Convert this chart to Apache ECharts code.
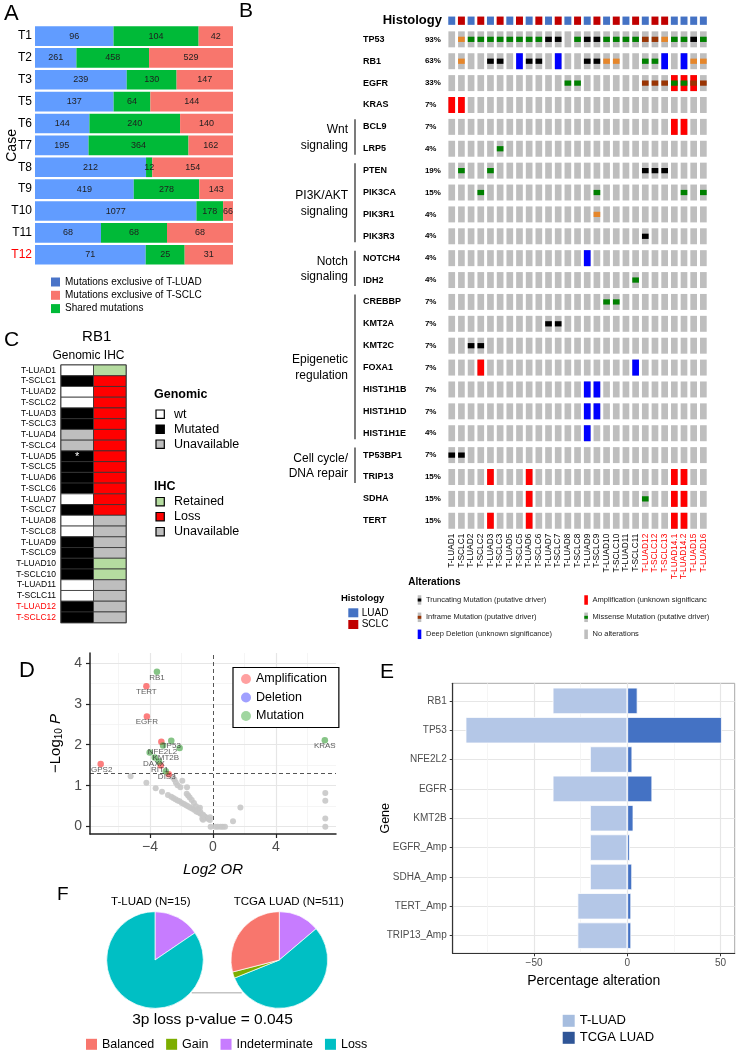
<!DOCTYPE html>
<html><head><meta charset="utf-8">
<script src="https://cdn.jsdelivr.net/npm/echarts@6/dist/echarts.min.js"></script>
<style>html,body{margin:0;padding:0;background:#fff}#c{width:736px;height:1050px}</style>
</head><body><div id="c"></div>
<script>
// ---------------- Panel A data ----------------
const caseLabels = ['T1','T2','T3','T5','T6','T7','T8','T9','T10','T11','T12'];
const luadExclusive = [96,261,239,137,144,195,212,419,1077,68,71];
const sharedMut = [104,458,130,64,240,364,12,278,178,68,25];
const sclcExclusive = [42,529,147,144,140,162,154,143,66,68,31];
const redCases = ['T12'];

// ---------------- Panel B data ----------------
const samples = ['T-LUAD1','T-SCLC1','T-LUAD2','T-SCLC2','T-LUAD3','T-SCLC3','T-LUAD5','T-SCLC5','T-LUAD6','T-SCLC6','T-LUAD7','T-SCLC7','T-LUAD8','T-SCLC8','T-LUAD9','T-SCLC9','T-LUAD10','T-SCLC10','T-LUAD11','T-SCLC11','T-LUAD12','T-SCLC12','T-SCLC13','T-LUAD14.1','T-LUAD14.2','T-LUAD15','T-LUAD16'];
const redSamples = ['T-LUAD12','T-SCLC12','T-SCLC13','T-LUAD14.1','T-LUAD14.2','T-LUAD15','T-LUAD16'];
const genes = ['TP53','RB1','EGFR','KRAS','BCL9','LRP5','PTEN','PIK3CA','PIK3R1','PIK3R3','NOTCH4','IDH2','CREBBP','KMT2A','KMT2C','FOXA1','HIST1H1B','HIST1H1D','HIST1H1E','TP53BP1','TRIP13','SDHA','TERT'];
// . none, M missense, T truncating, I inframe, S splice/other, A amplification, D deep deletion, X amp+missense, Y amp+inframe
const alterations = [
  '.SMMMMMMM|MTT.MTTMM|MMIISMMTM', // TP53
  '.S..TT.DT|T.D..TTSS|..MMD.DSS', // RB1
  '.........|...MM....|..IIIXXYI', // EGFR
  'AA.......|.........|.........', // KRAS
  '.........|.........|.....AA..', // BCL9
  '.....M...|.........|.........', // LRP5
  '.M..M....|.........|..TTT....', // PTEN
  '...M.....|......M..|......M.M', // PIK3CA
  '.........|......S..|.........', // PIK3R1
  '.........|.........|..T......', // PIK3R3
  '.........|.....D...|.........', // NOTCH4
  '.........|.........|.M.......', // IDH2
  '.........|.......MM|.........', // CREBBP
  '.........|.TT......|.........', // KMT2A
  '..TT.....|.........|.........', // KMT2C
  '...A.....|.........|.D.......', // FOXA1
  '.........|.....DD..|.........', // HIST1H1B
  '.........|.....DD..|.........', // HIST1H1D
  '.........|.....D...|.........', // HIST1H1E
  'TT.......|.........|.........', // TP53BP1
  '....A...A|.........|.....AA..', // TRIP13
  '........A|.........|..M..AA..', // SDHA
  '....A...A|.........|.....AA..'  // TERT
];
const pathwayNames = ['Wnt\nsignaling','PI3K/AKT\nsignaling','Notch\nsignaling','Epigenetic\nregulation','Cell cycle/\nDNA repair'];
const pathwayGenes = [['BCL9','LRP5'],['PTEN','PIK3CA','PIK3R1','PIK3R3'],['NOTCH4','IDH2'],['CREBBP','KMT2A','KMT2C','FOXA1','HIST1H1B','HIST1H1D','HIST1H1E'],['TP53BP1','TRIP13']];

// ---------------- Panel C data ----------------
const rb1Samples = ['T-LUAD1','T-SCLC1','T-LUAD2','T-SCLC2','T-LUAD3','T-SCLC3','T-LUAD4','T-SCLC4','T-LUAD5','T-SCLC5','T-LUAD6','T-SCLC6','T-LUAD7','T-SCLC7','T-LUAD8','T-SCLC8','T-LUAD9','T-SCLC9','T-LUAD10','T-SCLC10','T-LUAD11','T-SCLC11','T-LUAD12','T-SCLC12'];
const rb1Genomic = ['wt','mut','wt','wt','mut','mut','na','na','mut','mut','mut','mut','wt','mut','wt','wt','mut','mut','mut','mut','wt','wt','mut','mut'];
const rb1IHC = ['ret','loss','loss','loss','loss','loss','loss','loss','loss','loss','loss','loss','loss','loss','na','na','na','na','ret','ret','na','na','na','na'];
const rb1Note = ['','','','','','','','','*','','','','','','','','','','','','','','',''];
const redRb1 = ['T-LUAD12','T-SCLC12'];

// ---------------- Panel D data ----------------
const greyX = [-5.23,-4.23,-3.64,-3.24,-2.86,-2.65,-2.52,-2.39,-2.25,-2.12,-1.98,-1.84,-1.71,-1.59,-1.46,-1.33,-1.2,-1.06,-0.94,-0.81,-0.67,-0.53,-0.42,-0.32,-0.2,-2.54,-2.45,-2.36,-2.25,-2.07,-1.95,-1.65,-1.67,-1.58,-1.48,-1.35,-1.21,-1.08,-0.95,-0.8,-0.63,-0.63,-0.83,-0.68,-0.19,-0.15,0.15,0.3,0.48,0.62,0.76,1.27,1.74,7.13,7.13,7.13,7.13];
const greyY = [1.23,1.07,0.94,0.85,0.77,0.73,0.70,0.67,0.64,0.62,0.58,0.55,0.52,0.50,0.47,0.44,0.41,0.37,0.35,0.32,0.28,0.25,0.22,0.19,0.16,1.20,1.15,1.08,1.01,0.96,1.12,0.96,0.80,0.76,0.71,0.65,0.58,0.50,0.43,0.36,0.29,0.17,0.46,0.19,0.23,0,0,0,0,0,0,0.13,0.47,0.82,0.63,0.20,0];
const ampNames = ['TERT','EGFR','GPS2','','','DIS3'];
const ampX = [-4.23,-4.2,-7.13,-3.28,-3.32,-2.81];
const ampY = [3.43,2.69,1.53,2.07,1.49,1.28];
const mutNames = ['RB1','TP53','','','NFE2L2','KMT2B','DAXX','RIT1','KRAS'];
const mutX = [-3.56,-2.65,-3.17,-2.12,-4.02,-3.7,-3.43,-3.0,7.1];
const mutY = [3.78,2.1,1.98,1.92,1.81,1.69,1.59,1.35,2.11];
const pThreshold = 1.3;

// ---------------- Panel E data ----------------
const genesE = ['RB1','TP53','NFE2L2','EGFR','KMT2B','EGFR_Amp','SDHA_Amp','TERT_Amp','TRIP13_Amp'];
const tLuadPct = [40,86.7,20,40,20,20,20,26.7,26.7];
const tcgaPct = [5.5,50.7,2.7,13.4,3.3,1.4,2.6,2.1,2.1];

// ---------------- Panel F data ----------------
const cnaClasses = ['Indeterminate','Loss','Gain','Balanced'];
const tLuad3p = [15.5,84.5,0,0];
const tcga3p = [13.8,55.1,2.1,29.0];

// ================= build =================
const FONT = '"Liberation Sans", Arial, Helvetica, sans-serif';
const minus = v => (v < 0 ? '\u2212' + Math.abs(v) : String(v));
const chart = echarts.init(document.getElementById('c'), null, {renderer: 'canvas'});

// A
const totalsA = caseLabels.map((_, i) => luadExclusive[i] + sharedMut[i] + sclcExclusive[i]);
function barA(name, arr, color) {
  return {
    type: 'bar', name, stack: 'A', xAxisIndex: 0, yAxisIndex: 0,
    data: arr.map((v, i) => v / totalsA[i] * 100),
    barCategoryGap: '10%', itemStyle: {color}, silent: true,
    label: {show: true, position: 'inside', fontSize: 9, color: '#1e1e1e', fontFamily: FONT,
      formatter: p => String(arr[p.dataIndex])}
  };
}
const nameLuad = 'Mutations exclusive of T-LUAD', nameSclc = 'Mutations exclusive of T-SCLC', nameShared = 'Shared mutations';

// B
const rowCodes = alterations.map(s => s.replace(/\|/g, ''));
const codeList = 'MTISADXY';
const altColor = {M: '#008000', T: '#000000', I: '#993404', S: '#e5862b', A: '#ff0000', D: '#0000ff'};
const cellsBase = [], cellsAlt = [];
genes.forEach((g, gi) => {
  for (let j = 0; j < samples.length; j++) {
    cellsBase.push([j, gi]);
    const c = rowCodes[gi][j];
    if (c !== '.') cellsAlt.push([j, gi, codeList.indexOf(c)]);
  }
});
const pctLabels = rowCodes.map(s => Math.round(s.split('').filter(c => c !== '.').length / samples.length * 100) + '%');
const histCells = samples.map((s, j) => [j, 0, s.indexOf('SCLC') >= 0 ? 1 : 0]);

function renderBase(params, api) {
  const p = api.coord([api.value(0), api.value(1)]);
  const s = api.size([1, 1]);
  const w = s[0] * 0.69, h = s[1] * 0.73;
  return {type: 'rect', shape: {x: p[0] - w / 2, y: p[1] - h / 2, width: w, height: h}, style: {fill: '#bebebe'}};
}
function renderAlt(params, api) {
  const p = api.coord([api.value(0), api.value(1)]);
  const s = api.size([1, 1]);
  const w = s[0] * 0.69, h = s[1] * 0.73, hm = s[1] * 0.24;
  const c = codeList[api.value(2)];
  const kids = [];
  const full = col => kids.push({type: 'rect', shape: {x: p[0] - w / 2, y: p[1] - h / 2, width: w, height: h}, style: {fill: col}});
  const mid = col => kids.push({type: 'rect', shape: {x: p[0] - w / 2, y: p[1] - hm / 2, width: w, height: hm}, style: {fill: col}});
  if (c === 'A') full(altColor.A);
  else if (c === 'D') full(altColor.D);
  else if (c === 'X') { full(altColor.A); mid(altColor.M); }
  else if (c === 'Y') { full(altColor.A); mid(altColor.I); }
  else mid(altColor[c]);
  return {type: 'group', children: kids};
}
function renderHist(params, api) {
  const p = api.coord([api.value(0), api.value(1)]);
  const s = api.size([1, 1]);
  const w = s[0] * 0.72, h = 8.3;
  return {type: 'rect', shape: {x: p[0] - w / 2, y: p[1] - h / 2, width: w, height: h},
    style: {fill: api.value(2) === 1 ? '#c00000' : '#4472c4'}};
}

// C
const genColor = {wt: '#ffffff', mut: '#000000', na: '#bebebe'};
const ihcColor = {ret: '#b5dca0', loss: '#ff0000', na: '#bebebe'};
const cellsC = [];
rb1Samples.forEach((s, i) => { cellsC.push([0, i]); cellsC.push([1, i]); });
function renderC(params, api) {
  const col = api.value(0), row = api.value(1);
  const p = api.coord([col, row]);
  const s = api.size([1, 1]);
  const fill = col === 0 ? genColor[rb1Genomic[row]] : ihcColor[rb1IHC[row]];
  const kids = [{type: 'rect', shape: {x: p[0] - s[0] / 2, y: p[1] - s[1] / 2, width: s[0], height: s[1]},
    style: {fill, stroke: '#333', lineWidth: 0.8}}];
  if (col === 0 && rb1Note[row]) {
    kids.push({type: 'text', style: {text: rb1Note[row], x: p[0], y: p[1] + 1, fill: '#fff', fontSize: 11, fontFamily: FONT,
      textAlign: 'center', textVerticalAlign: 'middle', align: 'center', verticalAlign: 'middle'}});
  }
  return {type: 'group', children: kids};
}

// D
const labelOffset = {RB1: [0, 6], TERT: [0, 5.5], EGFR: [0, 5.5], GPS2: [1, 6], KRAS: [0, 6], TP53: [0, 5.5],
  NFE2L2: [12.8, -0.5], KMT2B: [11, 0], DAXX: [-5, 2], RIT1: [-6, -1.4], DIS3: [-2, 3]};
const SYM = 6.5;
function pointsD(xs, ys, names) {
  return xs.map((x, i) => {
    const off = labelOffset[names[i]] || [0, 0];
    return {value: [x, ys[i]], label: {show: !!names[i], formatter: names[i], position: [SYM / 2 + off[0], SYM / 2 + off[1]],
      align: 'center', verticalAlign: 'middle', fontSize: 8, color: '#333', fontFamily: FONT}};
  });
}
const lnMajor = {color: '#e6e6e6', width: 1.2, type: 'solid'};
const lnMinor = {color: '#f2f2f2', width: 0.8, type: 'solid'};
const lnDash = {color: '#555', width: 1, type: [4, 3]};
const gridD = [];
[-6, -2, 2, 6].forEach(v => gridD.push({xAxis: v, lineStyle: lnMinor}));
[0.5, 1.5, 2.5, 3.5].forEach(v => gridD.push({yAxis: v, lineStyle: lnMinor}));
[-4, 4].forEach(v => gridD.push({xAxis: v, lineStyle: lnMajor}));
[0, 1, 2, 3, 4].forEach(v => gridD.push({yAxis: v, lineStyle: lnMajor}));
const dashD = [{xAxis: 0, lineStyle: lnDash}, {yAxis: pThreshold, lineStyle: lnDash}];

// E
const gridEv = [];
[-75, -25, 25].forEach(v => gridEv.push({xAxis: v, lineStyle: lnMinor}));
[-50, 0, 50].forEach(v => gridEv.push({xAxis: v, lineStyle: lnMajor}));
const gridEh = genesE.map((g, i) => ({yAxis: i, lineStyle: lnMajor}));

// F
const pieData = arr => cnaClasses.map((n, i) => ({name: n, value: arr[i]})).filter(d => d.value > 0);
const cnaColor = {Balanced: '#F8766D', Gain: '#7CAE00', Indeterminate: '#C77CFF', Loss: '#00BFC4'};

const noAxis = {axisLine: {show: false}, axisTick: {show: false}, splitLine: {show: false}};
const mlBase = {silent: true, z: 0, zlevel: 0, symbol: ['none', 'none'], label: {show: false}, animation: false, emphasis: {disabled: true}};
const noLine = {width: 0, opacity: 0};
const CIRCLE = 'path://M50,0A50,50,0,1,1,50,100A50,50,0,1,1,50,0Z';

const option = {
  animation: false,
  textStyle: {fontFamily: FONT},
  grid: [
    {left: 35, top: 25.1, width: 198, height: 240.6},
    {left: 446.9, top: 12.2, width: 261.3, height: 17},
    {left: 446.9, top: 28.4, width: 261.3, height: 503.3},
    {left: 61, top: 365, width: 65, height: 257.7, show: true, borderColor: '#222', borderWidth: 1.2},
    {left: 90, top: 653, width: 246, height: 181},
    {left: 452.7, top: 686.2, width: 282, height: 264.1},
    {left: 452.7, top: 683.3, width: 282, height: 270, show: true, borderColor: '#a8a8a8', borderWidth: 1}
  ].map(g => Object.assign({containLabel: false, outerBoundsMode: 'none'}, g)),
  xAxis: [
    {gridIndex: 0, type: 'value', min: 0, max: 100, show: false},
    {gridIndex: 1, type: 'category', data: samples, show: false},
    Object.assign({gridIndex: 2, type: 'category', data: samples, position: 'bottom',
      axisLabel: {rotate: 90, fontSize: 8.3, margin: 2, interval: 0, fontFamily: FONT,
        color: v => (redSamples.indexOf(v) >= 0 ? '#ff0000' : '#000')}}, noAxis),
    Object.assign({gridIndex: 3, type: 'category', data: ['Genomic', 'IHC'], position: 'top',
      axisLabel: {show: false}}, noAxis),
    {gridIndex: 4, type: 'value', min: -7.81, max: 7.81, position: 'bottom', splitLine: {show: false},
      axisLine: {show: true, onZero: false, lineStyle: {color: '#222', width: 1.5}},
      axisTick: {show: true, customValues: [-4, 0, 4], length: 4, lineStyle: {color: '#222', width: 1.2}},
      axisLabel: {customValues: [-4, 0, 4], formatter: minus, fontSize: 14, color: '#4d4d4d', margin: 6, fontFamily: FONT},
      name: 'Log2 OR', nameLocation: 'middle', nameGap: 28, nameMoveOverlap: false,
      nameTextStyle: {fontStyle: 'italic', fontSize: 15, color: '#000', fontFamily: FONT}},
    {gridIndex: 5, type: 'value', min: -93.6, max: 57.6, show: false},
    {gridIndex: 6, type: 'value', min: -93.6, max: 57.6, position: 'bottom', splitLine: {show: false},
      axisLine: {show: true, onZero: false, lineStyle: {color: '#333', width: 1.2}},
      axisTick: {show: true, customValues: [-50, 0, 50], length: 3, lineStyle: {color: '#333'}},
      axisLabel: {customValues: [-50, 0, 50], formatter: minus, fontSize: 10, color: '#4d4d4d', margin: 5, fontFamily: FONT},
      name: 'Percentage alteration', nameLocation: 'middle', nameGap: 21, nameMoveOverlap: false,
      nameTextStyle: {fontSize: 14, color: '#000', fontFamily: FONT}}
  ],
  yAxis: [
    Object.assign({gridIndex: 0, type: 'category', data: caseLabels, inverse: true,
      axisLabel: {fontSize: 12, margin: 3, fontFamily: FONT, color: v => (redCases.indexOf(v) >= 0 ? '#ff0000' : '#000')},
      name: 'Case', nameLocation: 'middle', nameGap: 16, nameRotate: 90, nameMoveOverlap: false,
      nameTextStyle: {fontSize: 14, color: '#000', fontFamily: FONT}}, noAxis),
    Object.assign({gridIndex: 1, type: 'category', data: ['Histology'],
      axisLabel: {fontSize: 13, fontWeight: 'bold', color: '#000', margin: 5, fontFamily: FONT}}, noAxis),
    Object.assign({gridIndex: 2, type: 'category', data: genes, inverse: true,
      axisLabel: {margin: 6, interval: 0, fontFamily: FONT,
        formatter: (v, i) => '{g|' + v + '}{p|' + pctLabels[i] + '}',
        rich: {g: {width: 62, align: 'left', fontSize: 9, fontWeight: 'bold', color: '#000', fontFamily: FONT},
               p: {width: 16, align: 'left', fontSize: 8, fontWeight: 'bold', color: '#000', fontFamily: FONT}}}}, noAxis),
    Object.assign({gridIndex: 3, type: 'category', data: rb1Samples, inverse: true,
      axisLabel: {fontSize: 8.5, margin: 5, interval: 0, fontFamily: FONT,
        color: v => (redRb1.indexOf(v) >= 0 ? '#ff0000' : '#000')}}, noAxis),
    {gridIndex: 4, type: 'value', min: -0.18, max: 4.24, position: 'left', splitLine: {show: false},
      axisLine: {show: true, onZero: false, lineStyle: {color: '#222', width: 1.5}},
      axisTick: {show: true, customValues: [0, 1, 2, 3, 4], length: 4, lineStyle: {color: '#222', width: 1.2}},
      axisLabel: {customValues: [0, 1, 2, 3, 4], fontSize: 14, color: '#4d4d4d', margin: 8, fontFamily: FONT},
      name: '{a|\u2212Log}{s|10}{a| }{i|P}', nameLocation: 'middle', nameGap: 26, nameRotate: 90, nameMoveOverlap: false,
      nameTextStyle: {color: '#000', fontFamily: FONT, rich: {
        a: {fontSize: 15, color: '#000', fontFamily: FONT},
        s: {fontSize: 10, color: '#000', fontFamily: FONT, padding: [7, 0, 0, 0]},
        i: {fontSize: 15, color: '#000', fontStyle: 'italic', fontFamily: FONT}}}},
    {gridIndex: 5, type: 'category', data: genesE, inverse: true, position: 'left', axisLine: {show: false, onZero: false},
      axisTick: {show: true, alignWithLabel: true, length: 3, lineStyle: {color: '#333'}}, splitLine: {show: false},
      axisLabel: {fontSize: 10, color: '#4d4d4d', margin: 6, interval: 0, fontFamily: FONT}},
    {gridIndex: 6, type: 'value', min: 0, max: 1, position: 'left',
      axisLine: {show: true, onZero: false, lineStyle: {color: '#333', width: 1.2}},
      axisTick: {show: false}, axisLabel: {show: false}, splitLine: {show: false},
      name: 'Gene', nameLocation: 'middle', nameGap: 61, nameRotate: 90, nameMoveOverlap: false,
      nameTextStyle: {fontSize: 12.5, color: '#000', fontFamily: FONT}}
  ],
  legend: [
    {left: 51, top: 277, orient: 'vertical', itemWidth: 9, itemHeight: 9, itemGap: 3.3, padding: 0, selectedMode: false,
      lineStyle: noLine, textStyle: {fontSize: 10, lineHeight: 10, color: '#000', fontFamily: FONT},
      data: [{name: nameLuad, icon: 'rect', itemStyle: {color: '#4a74c8'}},
             {name: nameSclc, icon: 'rect', itemStyle: {color: '#F8766D'}},
             {name: nameShared, icon: 'rect', itemStyle: {color: '#00BA38'}}]},
    {left: 233, top: 667.5, orient: 'vertical', itemWidth: 10, itemHeight: 10, itemGap: 5.5, padding: [5, 12, 5, 8],
      borderColor: '#000', borderWidth: 1.2, backgroundColor: '#fff', z: 20, selectedMode: false, lineStyle: noLine,
      itemStyle: {borderWidth: 0},
      textStyle: {fontSize: 12.5, lineHeight: 13, color: '#000', fontFamily: FONT},
      data: [{name: 'Amplification', icon: CIRCLE, itemStyle: {color: '#f88', borderWidth: 0}},
             {name: 'Deletion', icon: CIRCLE, itemStyle: {color: '#88f', borderWidth: 0}},
             {name: 'Mutation', icon: CIRCLE, itemStyle: {color: '#8c8', borderWidth: 0}}]},
    {left: 562.7, top: 1014.3, orient: 'vertical', itemWidth: 12, itemHeight: 12, itemGap: 4, padding: 0, selectedMode: false,
      lineStyle: noLine, textStyle: {fontSize: 13, lineHeight: 12, color: '#000', fontFamily: FONT},
      data: [{name: 'T-LUAD', icon: 'rect', itemStyle: {color: '#a6bddf', borderWidth: 0}},
             {name: 'TCGA LUAD', icon: 'rect', itemStyle: {color: '#2f5597', borderWidth: 0}}]},
    {left: 86, top: 1037.8, orient: 'horizontal', itemWidth: 11, itemHeight: 11, itemGap: 12, padding: 0, selectedMode: false,
      lineStyle: noLine, textStyle: {fontSize: 12.5, color: '#000', fontFamily: FONT},
      data: ['Balanced', 'Gain', 'Indeterminate', 'Loss'].map(n => ({name: n, icon: 'rect', itemStyle: {color: cnaColor[n], borderWidth: 0}}))}
  ],
  series: [
    barA(nameLuad, luadExclusive, '#619CFF'),
    barA(nameShared, sharedMut, '#00BA38'),
    barA(nameSclc, sclcExclusive, '#F8766D'),
    {type: 'custom', name: 'hist', xAxisIndex: 1, yAxisIndex: 1, data: histCells, renderItem: renderHist, silent: true},
    {type: 'custom', name: 'base', xAxisIndex: 2, yAxisIndex: 2, data: cellsBase, renderItem: renderBase, silent: true, z: 2},
    {type: 'custom', name: 'alt', xAxisIndex: 2, yAxisIndex: 2, data: cellsAlt, renderItem: renderAlt, silent: true, z: 3},
    {type: 'custom', name: 'rb1', xAxisIndex: 3, yAxisIndex: 3, data: cellsC, renderItem: renderC, silent: true, z: 3},
    {type: 'scatter', name: 'gridD', xAxisIndex: 4, yAxisIndex: 4, data: [], z: 0, silent: true,
      markLine: Object.assign({data: gridD.concat(dashD)}, mlBase)},
    {type: 'scatter', name: 'ns', xAxisIndex: 4, yAxisIndex: 4, data: greyX.map((x, i) => [x, greyY[i]]),
      symbolSize: 6, itemStyle: {color: '#c8c8c8', opacity: 0.9}, silent: true, z: 3},
    {type: 'scatter', name: 'Amplification', xAxisIndex: 4, yAxisIndex: 4, data: pointsD(ampX, ampY, ampNames),
      symbolSize: SYM, itemStyle: {color: 'rgba(250,40,40,0.75)'}, silent: true, z: 4},
    {type: 'scatter', name: 'Deletion', xAxisIndex: 4, yAxisIndex: 4, data: [], symbolSize: SYM, itemStyle: {color: '#88f'}, silent: true},
    {type: 'scatter', name: 'Mutation', xAxisIndex: 4, yAxisIndex: 4, data: pointsD(mutX, mutY, mutNames),
      symbolSize: SYM, itemStyle: {color: 'rgba(40,150,40,0.7)'}, silent: true, z: 4},
    {type: 'scatter', name: 'gridEh', xAxisIndex: 5, yAxisIndex: 5, data: [], z: 0, silent: true,
      markLine: Object.assign({data: gridEh}, mlBase)},
    {type: 'scatter', name: 'gridEv', xAxisIndex: 6, yAxisIndex: 6, data: [], z: 0, silent: true,
      markLine: Object.assign({data: gridEv}, mlBase)},
    {type: 'bar', name: 'T-LUAD', xAxisIndex: 5, yAxisIndex: 5, data: tLuadPct.map(v => -v), barGap: '-100%', barCategoryGap: '10%',
      itemStyle: {color: '#b4c7e7', borderColor: '#fff', borderWidth: 0.8}, silent: true, z: 3},
    {type: 'bar', name: 'TCGA LUAD', xAxisIndex: 5, yAxisIndex: 5, data: tcgaPct, barGap: '-100%', barCategoryGap: '10%',
      itemStyle: {color: '#4472c4', borderColor: '#fff', borderWidth: 0.8}, silent: true, z: 3},
    {type: 'pie', name: 'pieL', center: [155, 960], radius: [0, 48.3], startAngle: 90, clockwise: true, silent: true,
      label: {show: false}, labelLine: {show: false}, data: pieData(tLuad3p),
      itemStyle: {borderColor: '#fff', borderWidth: 0.7, color: p => cnaColor[p.name]}},
    {type: 'pie', name: 'pieR', center: [279.3, 960], radius: [0, 48.3], startAngle: 90, clockwise: true, silent: true,
      label: {show: false}, labelLine: {show: false}, data: pieData(tcga3p),
      itemStyle: {borderColor: '#fff', borderWidth: 0.7, color: p => cnaColor[p.name]}}
  ]
};
chart.setOption(option);

// ---------- annotations (graphic) ----------
function txt(x, y, text, size, o) {
  o = o || {};
  const al = o.align || 'left', va = o.valign || 'middle';
  return {type: 'text', x, y, silent: true, z: o.z || 10, style: {text, fontSize: size, fontFamily: FONT, fill: o.fill || '#000',
    fontWeight: o.bold ? 'bold' : 'normal', fontStyle: o.italic ? 'italic' : 'normal', lineHeight: o.lh,
    textAlign: al, textVerticalAlign: va, align: al, verticalAlign: va}};
}
function rect(x, y, w, h, fill, stroke, lw) {
  return {type: 'rect', silent: true, z: 10, shape: {x, y, width: w, height: h}, style: {fill, stroke: stroke || null, lineWidth: lw || 0}};
}
const G = [];
// panel letters
G.push(txt(4, 14, 'A', 22), txt(239, 11.5, 'B', 21), txt(4, 340, 'C', 21), txt(19, 670.5, 'D', 22), txt(380, 672, 'E', 21), txt(57, 894.5, 'F', 19));
// panel B pathway groups
pathwayNames.forEach((nm, k) => {
  const gs = pathwayGenes[k];
  const y1 = chart.convertToPixel({yAxisIndex: 2}, genes.indexOf(gs[0]));
  const y2 = chart.convertToPixel({yAxisIndex: 2}, genes.indexOf(gs[gs.length - 1]));
  G.push({type: 'line', silent: true, z: 10, shape: {x1: 355, y1: y1 - 7.5, x2: 355, y2: y2 + 6}, style: {stroke: '#222', lineWidth: 1.2}});
  G.push(txt(348, (y1 + y2) / 2, nm, 12, {align: 'right', lh: 15.5}));
});
// panel B legend
G.push(txt(341, 598, 'Histology', 9.5, {bold: true}));
G.push(rect(348.3, 608.3, 10, 9, '#4472c4'), txt(361.7, 613, 'LUAD', 10));
G.push(rect(348.3, 620, 10, 9, '#c00000'), txt(361.7, 624.7, 'SCLC', 10));
G.push(txt(408.3, 582.7, 'Alterations', 10, {bold: true}));
const legAlt = [
  [417.7, 600, 'T', 'Truncating Mutation (putative driver)'],
  [417.7, 617.3, 'I', 'Inframe Mutation (putative driver)'],
  [417.7, 634.3, 'D', 'Deep Deletion (unknown significance)'],
  [584.3, 600, 'A', 'Amplification (unknown significanc'],
  [584.3, 617.3, 'M', 'Missense Mutation (putative driver)'],
  [584.3, 634.3, '.', 'No alterations']
];
legAlt.forEach(([x, y, c, label]) => {
  const w = 3.6, h = 9.5;
  if (c === 'A' || c === 'D') G.push(rect(x, y - h / 2, w, h, altColor[c]));
  else {
    G.push(rect(x, y - h / 2, w, h, '#bebebe'));
    if (c !== '.') G.push(rect(x, y - 1.5, w, 3, altColor[c]));
  }
  G.push(txt(x + 8.3, y, label, 7.5, {fill: '#222'}));
});
// panel C title + column headers + legends
G.push(txt(96.7, 337, 'RB1', 15, {align: 'center'}));
G.push(txt(88.5, 355.5, 'Genomic IHC', 12, {align: 'center'}));
G.push(txt(154, 395, 'Genomic', 12.5, {bold: true}));
[['wt', '#ffffff'], ['Mutated', '#000000'], ['Unavailable', '#bebebe']].forEach(([l, f], i) => {
  G.push(rect(156, 410 + i * 15, 8.3, 8.3, f, '#000', 1.2), txt(174, 414.2 + i * 15, l, 12.5));
});
G.push(txt(154, 487, 'IHC', 12.5, {bold: true}));
[['Retained', '#b5dca0'], ['Loss', '#ff0000'], ['Unavailable', '#bebebe']].forEach(([l, f], i) => {
  G.push(rect(156, 497.5 + i * 15, 8.3, 8.3, f, '#000', 1.2), txt(174, 501.7 + i * 15, l, 12.5));
});
// panel F titles
G.push(txt(150.8, 901.7, 'T-LUAD (N=15)', 11.5, {align: 'center'}));
G.push(txt(288.8, 901.7, 'TCGA LUAD (N=511)', 11.5, {align: 'center'}));
G.push(txt(212.5, 1020, '3p loss p-value = 0.045', 15.5, {align: 'center'}));
G.push({type: 'line', silent: true, z: 0, shape: {x1: 191.7, y1: 992.7, x2: 241.7, y2: 992.7}, style: {stroke: '#c4c4c4', lineWidth: 1.5}});

chart.setOption({graphic: G});
</script>
</body></html>
